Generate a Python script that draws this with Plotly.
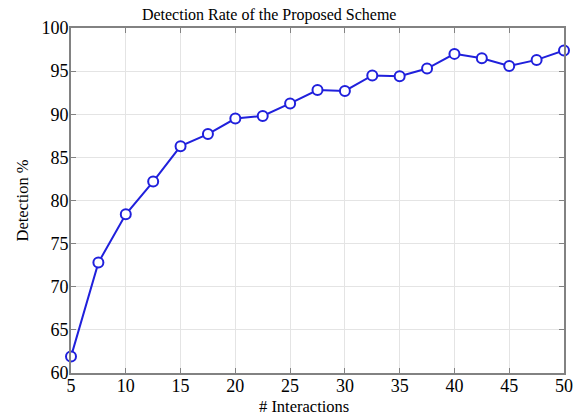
import plotly.graph_objects as go

# Number of interactions and the detection rate reached at each
interactions = [5, 7.5, 10, 12.5, 15, 17.5, 20, 22.5, 25, 27.5,
                30, 32.5, 35, 37.5, 40, 42.5, 45, 47.5, 50]
detection = [61.9, 72.8, 78.4, 82.2, 86.3, 87.7, 89.5, 89.8, 91.25, 92.8,
             92.7, 94.5, 94.4, 95.3, 97.0, 96.5, 95.6, 96.3, 97.4]

x_ticks = [5, 10, 15, 20, 25, 30, 35, 40, 45, 50]
y_ticks = [60, 65, 70, 75, 80, 85, 90, 95, 100]

title_text = "Detection Rate of the Proposed Scheme"
x_label = "# Interactions"
y_label = "Detection %"

FONT = "Liberation Serif, Times New Roman, serif"
BLUE = "rgb(32,32,220)"
AXIS = "rgb(130,130,130)"
GRID = "rgb(228,228,228)"

fig = go.Figure()
fig.add_trace(go.Scatter(
    x=interactions,
    y=detection,
    mode="lines+markers",
    line=dict(color=BLUE, width=2),
    marker=dict(symbol="circle", size=10, color="white",
                line=dict(color=BLUE, width=2)),
    cliponaxis=False,
    showlegend=False,
))

axis_common = dict(
    showline=True, linecolor=AXIS, linewidth=2, mirror="ticks",
    ticks="inside", ticklen=5, tickcolor=AXIS, tickwidth=1,
    showgrid=True, gridcolor=GRID, gridwidth=1,
    zeroline=False,
    tickfont=dict(family=FONT, size=18, color="black"),
)

fig.update_xaxes(range=[5, 50], tickvals=x_ticks, ticklabelstandoff=-5,
                 **axis_common)
fig.update_yaxes(range=[60, 100], tickvals=y_ticks, ticklabelstandoff=-3,
                 **axis_common)

fig.update_layout(
    width=580, height=415,
    margin=dict(l=71, r=7, t=28, b=42),
    paper_bgcolor="white",
    plot_bgcolor="white",
    font=dict(family=FONT, color="black"),
    title=dict(text=title_text, font=dict(family=FONT, size=16, color="black"),
               xref="paper", x=0.402, xanchor="center",
               yref="container", y=1 - 14 / 415, yanchor="middle"),
    annotations=[
        dict(text=x_label, xref="paper", yref="paper", x=0.472, y=0,
             xanchor="center", yanchor="top", yshift=-22, showarrow=False,
             font=dict(family=FONT, size=16.5, color="black")),
        dict(text=y_label, xref="paper", yref="paper", x=0, y=0.5,
             xanchor="center", yanchor="middle", xshift=-49, textangle=-90,
             showarrow=False, font=dict(family=FONT, size=16.5, color="black")),
    ],
)

fig.write_html("out.html")
